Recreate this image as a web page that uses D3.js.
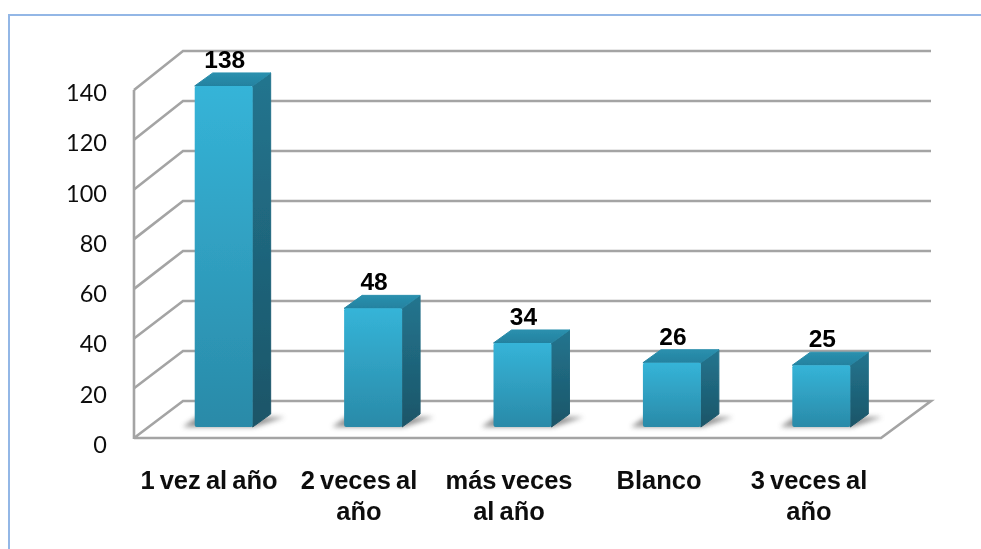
<!DOCTYPE html>
<html><head><meta charset="utf-8">
<style>html,body{margin:0;padding:0;background:#fff}svg{display:block}</style>
<script src="https://cdn.jsdelivr.net/npm/d3@7/dist/d3.min.js"></script>
</head><body><div id="c"></div>
<script>
const categories = ["1 vez al año","2 veces al año","más veces al año","Blanco","3 veces al año"];
const labelLines = [["1 vez al año"],["2 veces al","año"],["más veces","al año"],["Blanco"],["3 veces al","año"]];
const values = [138,48,34,26,25];
const ticks = [0,20,40,60,80,100,120,140];

const W=981,H=549;
const svg=d3.select("#c").append("svg").attr("width",W).attr("height",H);
const defs=svg.append("defs");
function blur(id,sd){const f=defs.append("filter").attr("id",id).attr("x","-40%").attr("y","-80%").attr("width","180%").attr("height","260%");
 f.append("feGaussianBlur").attr("stdDeviation",sd);}
const soft=defs.append("filter").attr("id","soft").attr("filterUnits","userSpaceOnUse").attr("x",0).attr("y",0).attr("width",W).attr("height",H);
soft.append("feGaussianBlur").attr("stdDeviation",0.7);
const txt=defs.append("filter").attr("id","txt").attr("filterUnits","userSpaceOnUse").attr("x",0).attr("y",0).attr("width",W).attr("height",H);
txt.append("feGaussianBlur").attr("stdDeviation",0.35);
blur("shb",2.4);
function grad(id,c0,c1){const g=defs.append("linearGradient").attr("id",id).attr("x1",0).attr("y1",0).attr("x2",0).attr("y2",1);
 g.append("stop").attr("offset","0%").attr("stop-color",c0);g.append("stop").attr("offset","100%").attr("stop-color",c1);}
grad("front","#35b4d8","#2a8aa8");
grad("side","#23758f","#1b5568");
grad("top","#2a90ae","#2482a0");

// frame
svg.append("path").attr("d",`M9,${H} V15 H${W}`).attr("fill","none").attr("stroke","#93b7e6").attr("stroke-width",2);

const depthX=49;
const xFront=d3.scaleLinear().domain([0,1]).range([134,881]);
const yFront=d3.scaleLinear().domain([0,140]).range([438,90]);
const yBack=d3.scaleLinear().domain([0,140]).range([401,51]);
const yTickText=d3.scaleLinear().domain([0,140]).range([453,101]);
const xBar=d3.scaleBand().domain(categories).range([149,896]).paddingInner(0.612).paddingOuter(0.306);
const yBar=d3.scaleLinear().domain([0,140]).range([427,81]);
const xLabel=d3.scaleBand().domain(categories).range([134,884]);
const barDX=18, barDY=13;

const grid=svg.append("g").attr("filter","url(#soft)");
const gridColor="#a4a4a4";
ticks.forEach(t=>{
  const x0=xFront(0),x1=xFront(1);
  grid.append("path")
    .attr("d",t===0
      ? `M${x0},${yFront(t)} L${x0+depthX},${yBack(t)} H${x1+depthX+1} L${x1},${yFront(t)} H${x0}`
      : `M${x0},${yFront(t)} L${x0+depthX},${yBack(t)} H${x1+depthX+1}`)
    .attr("fill","none").attr("stroke",gridColor).attr("stroke-width",2.6);
});
grid.append("line").attr("x1",xFront(0)).attr("x2",xFront(0)).attr("y1",yFront(140)).attr("y2",yFront(0)+1)
  .attr("stroke",gridColor).attr("stroke-width",2.6);

const bars=svg.append("g").selectAll("g").data(values).join("g");
bars.each(function(v,i){
  const g=d3.select(this),c=categories[i],x=xBar(c),w=xBar.bandwidth(),b=yBar(0),t=yBar(v);
  g.append("path").attr("d",`M${x-12},${b} L${x+2},${b-10} H${x+w+barDX+14} L${x+w+2},${b} Z`)
    .attr("fill","#6f6f6f").attr("opacity",0.75).attr("filter","url(#shb)");
  const s=g.append("g").attr("filter","url(#soft)");
  s.append("path").attr("d",`M${x+w},${t} L${x+w+barDX},${t-barDY} V${b-barDY} L${x+w},${b} Z`).attr("fill","url(#side)").attr("stroke","url(#side)").attr("stroke-linejoin","round");
  s.append("path").attr("d",`M${x},${t} L${x+barDX},${t-barDY} H${x+w+barDX} L${x+w},${t} Z`).attr("fill","url(#top)").attr("stroke","url(#top)").attr("stroke-linejoin","round");
  s.append("rect").attr("x",x).attr("y",t).attr("width",w).attr("height",b-t).attr("rx",2).attr("fill","url(#front)");
});

const texts=svg.append("g").attr("filter","url(#txt)");
texts.append("g").selectAll("text").data(ticks).join("text")
  .attr("x",107).attr("y",d=>yTickText(d)).attr("text-anchor","end")
  .attr("font-family","Lato, sans-serif").attr("font-size",23.5).attr("fill","#111").text(d=>d);

texts.append("g").selectAll("text").data(values).join("text")
  .attr("x",(d,i)=>xBar(categories[i])+xBar.bandwidth()/2+1)
  .attr("y",d=>yBar(d)-18).attr("text-anchor","middle")
  .attr("font-family","'Liberation Sans', Arial, sans-serif").attr("font-weight","bold").attr("font-size",24.5).attr("fill","#000").text(d=>d);

const lab=texts.append("g").selectAll("text").data(labelLines).join("text")
  .attr("text-anchor","middle").attr("font-family","'Liberation Sans', Arial, sans-serif")
  .attr("font-weight","bold").attr("font-size",25.5).attr("word-spacing",-2).attr("fill","#111");
lab.each(function(lines,i){
  const cx=xLabel(categories[i])+xLabel.bandwidth()/2;
  d3.select(this).selectAll("tspan").data(lines).join("tspan")
    .attr("x",cx).attr("y",(d,j)=>489+j*31).text(d=>d);
});
</script></body></html>
